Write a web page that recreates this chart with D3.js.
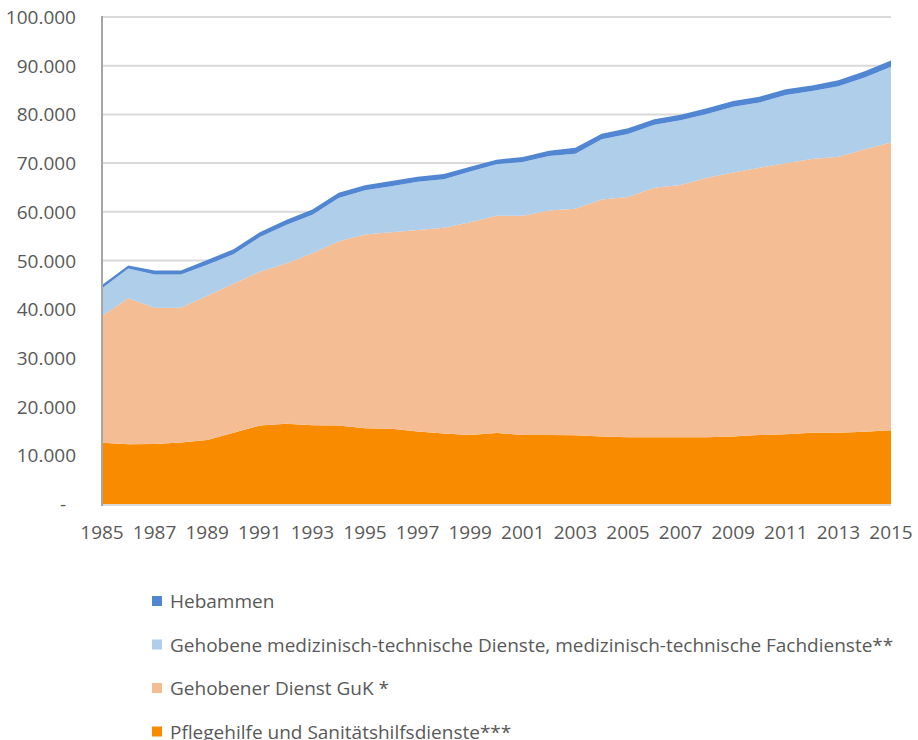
<!DOCTYPE html>
<html>
<head>
<meta charset="utf-8">
<script src="https://cdn.jsdelivr.net/npm/d3@7"></script>
<style>
  body { margin: 0; background: #fff; }
  text { font-family: "Open Sans", sans-serif; fill: #595959; }
</style>
</head>
<body>
<svg width="918" height="740"></svg>
<script>
// data
const years = d3.range(1985, 2016);
const pflegehilfe = [12600, 12250, 12300, 12650, 13150, 14650, 16100, 16500, 16150, 16100,
    15550, 15450, 14900, 14500, 14150, 14600, 14150, 14150, 14100, 13850,
    13700, 13700, 13700, 13700, 13850, 14150, 14300, 14650, 14650, 14850, 15150];
const gehobenerDienst = [26000, 30000, 28000, 27650, 29600, 30600, 31600, 32900, 35350, 37850,
    39800, 40350, 41350, 42250, 43700, 44600, 45050, 46100, 46550, 48700,
    49350, 51250, 51800, 53300, 54200, 54900, 55650, 56200, 56650, 58000, 59100];
const mtd = [5700, 6100, 6800, 6800, 6400, 6050, 7100, 7900, 7900, 8900,
    9050, 9450, 9900, 9950, 10400, 10550, 11050, 11200, 11250, 12350,
    12950, 12950, 13300, 13100, 13500, 13400, 14050, 13950, 14500, 14750, 15550];
const hebammen = [650, 600, 850, 850, 950, 1000, 1000, 1000, 1050, 1050,
    1050, 1050, 1050, 1050, 1000, 950, 1000, 1100, 1250, 1150,
    1150, 1100, 1150, 1150, 1200, 1200, 1150, 1150, 1200, 1250, 1250];
const yTicks = [0, 10000, 20000, 30000, 40000, 50000, 60000, 70000, 80000, 90000, 100000];

// stack order bottom -> top
const keys = ["pflege", "guk", "mtd", "heb"];
const labels = {
    heb: "Hebammen",
    mtd: "Gehobene medizinisch-technische Dienste, medizinisch-technische Fachdienste**",
    guk: "Gehobener Dienst GuK *",
    pflege: "Pflegehilfe und Sanitätshilfsdienste***"
};
const colors = {pflege: "#F88B00", guk: "#F5BD94", mtd: "#AECEEA", heb: "#5186D2"};

const table = years.map((y, i) => ({
    year: y, pflege: pflegehilfe[i], guk: gehobenerDienst[i], mtd: mtd[i], heb: hebammen[i]
}));

const svg = d3.select("svg");

const x = d3.scaleLinear().domain([1985, 2015]).range([102, 891]);
const y = d3.scaleLinear().domain([0, 100000]).range([504, 17]);

// gridlines
svg.append("g")
    .selectAll("line")
    .data(yTicks.slice(1))
    .join("line")
    .attr("x1", x(1985)).attr("x2", x(2015))
    .attr("y1", d => y(d)).attr("y2", d => y(d))
    .attr("stroke", "#D9D9D9")
    .attr("stroke-width", 2);

// areas
const series = d3.stack().keys(keys)(table);
const area = d3.area()
    .x(d => x(d.data.year))
    .y0(d => y(d[0]))
    .y1(d => y(d[1]));

svg.append("g")
    .selectAll("path")
    .data(series)
    .join("path")
    .attr("d", area)
    .attr("fill", d => colors[d.key]);

// axis lines
svg.append("line")
    .attr("x1", x(1985)).attr("x2", x(2015))
    .attr("y1", y(0) + 1).attr("y2", y(0) + 1)
    .attr("stroke", "#D9D9D9").attr("stroke-width", 2);
svg.append("line")
    .attr("x1", x(1985)).attr("x2", x(1985))
    .attr("y1", y(100000) - 1).attr("y2", y(0) + 2)
    .attr("stroke", "#A6A6A6").attr("stroke-width", 2);

// y tick labels
const fmt = d => d3.format(",")(d).replace(/,/g, ".");
svg.append("g")
    .selectAll("text")
    .data(yTicks)
    .join("text")
    .attr("x", d => d === 0 ? 66 : 76)
    .attr("y", d => y(d) + 7)
    .attr("text-anchor", "end")
    .style("font-size", "19px")
    .text(d => d === 0 ? "-" : fmt(d));

// x tick labels, every other year
svg.append("g")
    .selectAll("text")
    .data(years.filter(d => (d - 1985) % 2 === 0))
    .join("text")
    .attr("x", d => x(d))
    .attr("y", 539)
    .attr("text-anchor", "middle")
    .style("font-size", "19px")
    .text(d => d);

// legend
const legendKeys = ["heb", "mtd", "guk", "pflege"];
const legend = svg.append("g")
    .selectAll("g")
    .data(legendKeys)
    .join("g")
    .attr("transform", (d, i) => `translate(152, ${601 + i * 43.5})`);

legend.append("rect")
    .attr("x", 0).attr("y", -5)
    .attr("width", 10).attr("height", 10)
    .attr("fill", d => colors[d]);

legend.append("text")
    .attr("x", 18)
    .attr("y", 7)
    .style("font-size", "19px")
    .text(d => labels[d]);
</script>
</body>
</html>
